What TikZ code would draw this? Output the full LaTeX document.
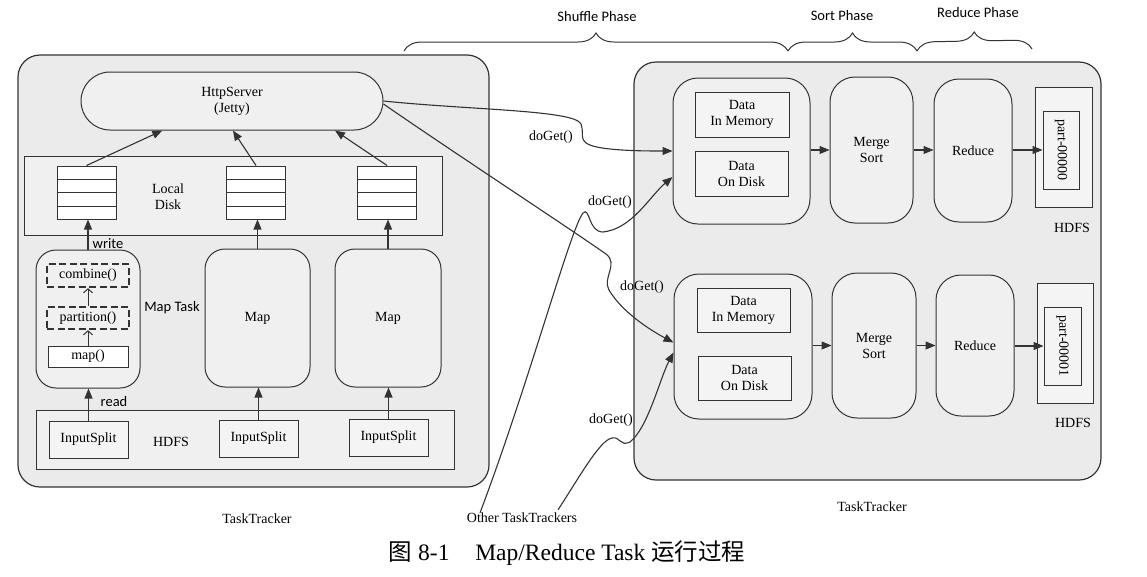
\documentclass[tikz,border=0pt]{standalone}
\usepackage{fontspec}
\setmainfont{Liberation Serif}
\newfontfamily\calfont{Carlito}
\newfontfamily\cjkfont{Noto Sans CJK SC}
\usetikzlibrary{arrows.meta,calc,decorations.pathreplacing}
\definecolor{ln}{gray}{0.2}
\definecolor{outerfill}{gray}{0.92}
\definecolor{innerfill}{gray}{0.94}
\definecolor{rectfill}{gray}{0.955}
\begin{document}
\begin{tikzpicture}[x=1pt,y=-1pt,
  font=\fontsize{14}{16}\selectfont,
  outer/.style={draw=ln, fill=outerfill, rounded corners=22pt, line width=1.2pt, inner sep=0pt},
  rbox/.style={draw=ln, fill=innerfill, line width=1pt, inner sep=0pt, align=center},
  sq/.style={draw=ln, fill=rectfill, line width=1pt, inner sep=0pt, align=center},
  stk/.style={draw=ln, fill=white, line width=1pt, inner sep=0pt},
  dbox/.style={draw=ln, line width=2.3pt, dash pattern=on 7pt off 3.5pt, inner sep=0pt},
  arr/.style={draw=ln, line width=1.1pt, -{Triangle[length=10pt,width=8pt]}},
  oarr/.style={draw=ln, line width=1pt, -{Straight Barb[length=4pt,width=9pt]}},
  wire/.style={draw=ln, line width=1pt},
  lab/.style={font=\calfont\fontsize{14.5}{16}\selectfont, inner sep=0pt},
  txt/.style={inner sep=0pt, align=center},
  brc/.style={draw=ln, line width=1pt, decorate, decoration={brace, amplitude=18pt, aspect=0.5}}
]
\useasboundingbox (0,0) rectangle (1147,576);

% ---------- left TaskTracker ----------
\node[outer, minimum width=471, minimum height=432] (ltt) at (253.5,271) {};
\node[rbox, rounded corners=29pt, minimum width=302, minimum height=58] (http) at (232,101) {HttpServer\\(Jetty)};
\node[rbox, minimum width=418, minimum height=79] (ldisk) at (233,195.5) {};
\node[txt] (ldtxt) at (168,197) {Local\\Disk};
\foreach \n/\cx in {s1/86.5, s2/256, s3/387}{
  \node[stk, minimum width=59, minimum height=53] (\n) at (\cx,192.5) {};
  \foreach \f in {0.25,0.5,0.75}{
    \draw[wire] ($(\n.north west)!\f!(\n.south west)$) -- ($(\n.north east)!\f!(\n.south east)$);
  }
}
\node[rbox, rounded corners=20pt, minimum width=104, minimum height=138] (m1) at (88,319) {};
\node[rbox, rounded corners=20pt, minimum width=105, minimum height=138] (m2) at (257.5,318) {Map};
\node[rbox, rounded corners=20pt, minimum width=106, minimum height=138] (m3) at (388,318) {Map};
\node[dbox, minimum width=82, minimum height=23] (comb) at (88,275.5) {combine()};
\node[dbox, minimum width=82, minimum height=22] (part) at (88,318) {partition()};
\node[sq, fill=white, minimum width=80, minimum height=21] (mapf) at (88,356.5) {map()};
\node[lab] (maptask) at (172,308) {Map Task};
\node[lab] (write) at (108,244) {write};
\node[lab] (read) at (114,402) {read};
\node[rbox, minimum width=418, minimum height=59] (hdfsl) at (245,439.5) {};
\node[sq, minimum width=79, minimum height=37] (is1) at (88.5,439.5) {InputSplit};
\node[sq, minimum width=79, minimum height=37] (is2) at (258.5,438.5) {InputSplit};
\node[sq, minimum width=79, minimum height=37] (is3) at (388.5,437.5) {InputSplit};
\node[txt] (hdfslt) at (171,442) {HDFS};
\node[txt] (lttlab) at (257,519) {TaskTracker};

\draw[arr] (is1.north) -- (is1.north |- m1.south);
\draw[arr] (is2.north) -- (is2.north |- m2.south);
\draw[arr] (is3.north) -- (is3.north |- m3.south);
\draw[arr] (m1.north) -- (m1.north |- s1.south);
\draw[arr] (m2.north) -- (m2.north |- s2.south);
\draw[arr] (m3.north) -- (m3.north |- s3.south);
\draw[oarr] (mapf.north) -- (part.south);
\draw[oarr] (part.north) -- (comb.south);
\draw[arr] (s1.north) -- ($(http.south west)!0.27!(http.south east)$);
\draw[arr] (s2.north) -- ($(http.south west)!0.503!(http.south east)$);
\draw[arr] (s3.north) -- ($(http.south west)!0.84!(http.south east)$);

% ---------- right TaskTracker ----------
\node[outer, minimum width=467, minimum height=418] (rtt) at (867.5,271) {};
\node[txt] (rttlab) at (872,507) {TaskTracker};

\node[rbox, rounded corners=25pt, minimum width=137, minimum height=146] (sh1) at (741.5,151) {};
\node[sq, minimum width=94, minimum height=45] (dm1) at (742,114.5) {Data\\In Memory};
\node[sq, minimum width=93, minimum height=45] (dd1) at (741.5,173.5) {Data\\On Disk};
\node[rbox, rounded corners=25pt, minimum width=83, minimum height=146] (ms1) at (871.5,150) {Merge\\Sort};
\node[rbox, rounded corners=25pt, minimum width=78, minimum height=143] (rd1) at (973,150.5) {Reduce};
\node[sq, minimum width=57, minimum height=120] (hd1) at (1063.5,147) {};
\node[sq, rotate=-90, minimum width=78, minimum height=36] (pt1) at (1061,150) {part-00000};
\node[txt] (hd1lab) at (1072,228) {HDFS};

\node[rbox, rounded corners=25pt, minimum width=138, minimum height=145] (sh2) at (743,346.5) {};
\node[sq, minimum width=93, minimum height=44] (dm2) at (743.5,310) {Data\\In Memory};
\node[sq, minimum width=93, minimum height=44] (dd2) at (744.5,378) {Data\\On Disk};
\node[rbox, rounded corners=25pt, minimum width=84, minimum height=145] (ms2) at (874,345.5) {Merge\\Sort};
\node[rbox, rounded corners=25pt, minimum width=78, minimum height=141] (rd2) at (975,345.5) {Reduce};
\node[sq, minimum width=56, minimum height=120] (hd2) at (1065,343) {};
\node[sq, rotate=-90, minimum width=78, minimum height=37] (pt2) at (1062.5,346) {part-00001};
\node[txt] (hd2lab) at (1073,423) {HDFS};

\draw[arr] (sh1.east |- ms1.west) -- (ms1.west);
\draw[arr] (ms1.east) -- (rd1.west |- ms1.east);
\draw[arr] (rd1.east |- pt1.center) -- (pt1.south);
\draw[arr] (sh2.east |- ms2.west) -- (ms2.west);
\draw[arr] (ms2.east) -- (rd2.west |- ms2.east);
\draw[arr] (rd2.east |- pt2.center) -- (pt2.south);

% ---------- shuffle connectors ----------
\node[txt] (ot) at (522,518) {Other TaskTrackers};
\coordinate (ot3) at ($(ot.north)+(-42,0)$);
\coordinate (ot4) at ($(ot.north)+(36,-3)$);

\draw[arr] (http.east) .. controls (470,110) and (575,110) .. (581,124)
  .. controls (586,136) and (572,145) .. (610,149)
  .. controls (630,151) and (650,151) .. (sh1.west);
\draw[arr] ($(http.east)+(0,3)$) .. controls (450,150) and (560,222) .. (606,254)
  .. controls (619,264) and (602,278) .. (609,290)
  .. controls (622,312) and (650,330) .. ($(sh2.west)+(0,-4)$);
\draw[arr] (ot3) .. controls (530,380) and (570,230) .. (583,213)
  .. controls (590,206) and (588,232) .. (603,232)
  .. controls (632,229) and (650,196) .. ($(sh1.west)+(0,26)$);
\draw[arr] (ot4) .. controls (580,476) and (600,440) .. (612,438)
  .. controls (620,436) and (620,447) .. (630,442)
  .. controls (648,428) and (660,378) .. ($(sh2.west)+(0,6)$);

\node[txt] (dg1) at (551,137) {doGet()};
\node[txt] (dg2) at (610,202) {doGet()};
\node[txt] (dg3) at (642,287) {doGet()};
\node[txt] (dg4) at (611,420) {doGet()};

% ---------- phases ----------
\coordinate (b0) at (404,51);
\coordinate (b1) at (788,51);
\coordinate (b2) at (917,51);
\coordinate (b3) at (1032,49);
\draw[brc] (b0) -- (b1);
\draw[brc] (b1) -- (b2);
\draw[brc] (b2) -- (b3);
\node[lab] (shph) at (597,17) {Shuffle Phase};
\node[lab] (soph) at (842,16) {Sort Phase};
\node[lab] (reph) at (978,13) {Reduce Phase};

% ---------- caption ----------
\node[inner sep=0pt, font=\fontsize{23.5}{26}\selectfont] (cap) at (567,553)
  {{\cjkfont 图} 8-1\hspace{1.1em}Map/Reduce Task {\cjkfont 运行过程}};
\end{tikzpicture}
\end{document}
